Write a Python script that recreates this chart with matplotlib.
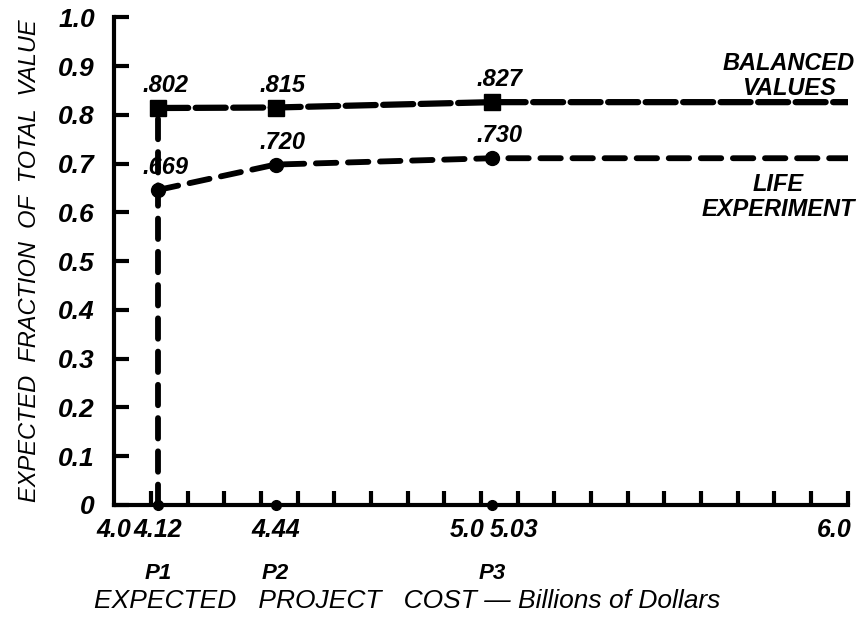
import matplotlib.pyplot as plt
import numpy as np

# project points (cost in billions) and the two curves
cost = [4.12, 4.44, 5.03, 6.0]
balanced = [0.814, 0.815, 0.826, 0.826]
life = [0.646, 0.698, 0.711, 0.711]
balanced_lbl = ['.802', '.815', '.827']
life_lbl = ['.669', '.720', '.730']
proj_names = ['P1', 'P2', 'P3']

xticks_major = [4.0, 4.12, 4.44, 5.0, 5.03, 6.0]
xtick_lbls = ['4.0', '4.12', '4.44', '5.0', '5.03', '6.0']
xtick_ha = ['center', 'center', 'center', 'right', 'left', 'right']
yticks = np.round(np.arange(0, 1.01, 0.1), 1)
ytick_lbls = ['0'] + ['0.%d' % i for i in range(1, 10)] + ['1.0']

fam = ['Liberation Sans', 'DejaVu Sans']
font = dict(family=fam, style='italic', weight='bold')

fig = plt.figure(figsize=(8.65, 6.18), dpi=100)
ax = fig.add_axes([0.132, 0.183, 0.848, 0.789])

# balanced values
ax.plot(cost, balanced, color='black', lw=4.5, dashes=(4.8, 1.2), dash_capstyle='round')
ax.plot(cost[:3], balanced[:3], 's', color='black', ms=11)
# life experiment
ax.plot(cost, life, color='black', lw=4.2, dashes=(3.5, 2.0), dash_capstyle='round')
ax.plot(cost[:3], life[:3], 'o', color='black', ms=10)
# drop line at P1
ax.plot([cost[0], cost[0]], [0, balanced[0]], color='black', lw=4.2,
        dashes=(3.5, 2.2), dash_capstyle='round')
ax.plot(cost[:3], [0, 0, 0], 'o', color='black', ms=7, clip_on=False, zorder=5)

for x, y, s in zip(cost[:3], balanced[:3], balanced_lbl):
    ax.text(x + 0.02, y + 0.022, s, ha='center', va='bottom', fontsize=17, **font)
for x, y, s in zip(cost[:3], life[:3], life_lbl):
    ax.text(x + 0.02, y + 0.022, s, ha='center', va='bottom', fontsize=17, **font)

ax.text(5.84, 0.88, 'BALANCED\nVALUES', ha='center', va='center', fontsize=17,
        linespacing=1.1, **font)
ax.text(5.81, 0.632, 'LIFE\nEXPERIMENT', ha='center', va='center', fontsize=17,
        linespacing=1.1, **font)

ax.set_xlim(4.0, 6.0)
ax.set_ylim(0, 1.0)
for side in ['top', 'right']:
    ax.spines[side].set_visible(False)
for side in ['left', 'bottom']:
    ax.spines[side].set_linewidth(3)

ax.set_yticks(yticks)
ax.set_yticklabels(ytick_lbls, fontsize=19, **font)
ax.tick_params(axis='y', direction='in', length=11, width=3, pad=14)

ax.set_xticks(np.round(np.arange(4.1, 6.01, 0.1), 1))
ax.set_xticklabels([])
ax.tick_params(axis='x', direction='in', length=10, width=3)
for x, s, ha in zip(xticks_major, xtick_lbls, xtick_ha):
    dx = {'center': 0.0, 'right': 0.01, 'left': -0.005}[ha]
    ax.text(x + dx, -0.026, s, ha=ha, va='top', fontsize=18, **font)
for x, s in zip(cost[:3], proj_names):
    ax.text(x, -0.12, s, ha='center', va='top', fontsize=16, **font)

ax.text(4.8, -0.172, 'EXPECTED   PROJECT   COST \u2014 Billions of Dollars', ha='center',
        va='top', fontsize=19, family=fam, style='italic')
ax.set_ylabel('EXPECTED  FRACTION  OF  TOTAL  VALUE', fontsize=17,
              family=fam, style='italic', labelpad=12)

fig.savefig('out.png', dpi=100)
